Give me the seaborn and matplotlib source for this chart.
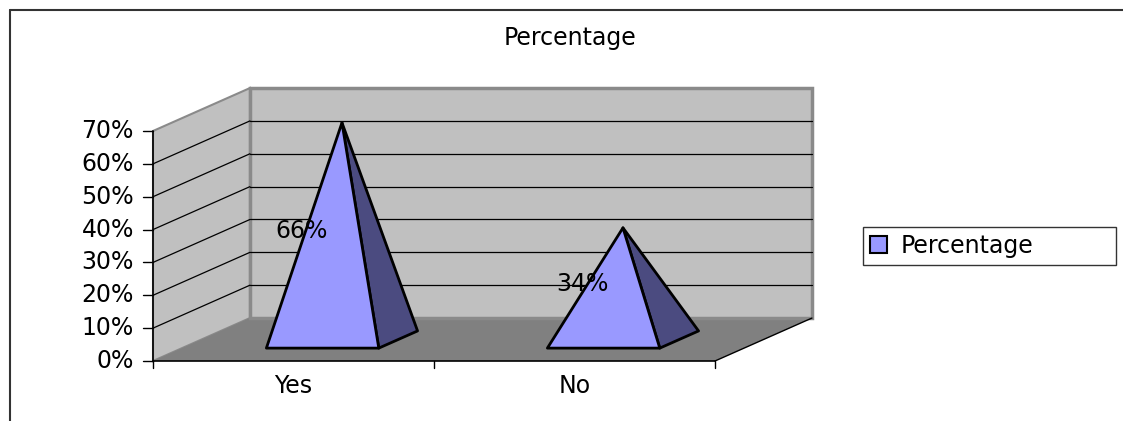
import matplotlib
matplotlib.use("Agg")
import matplotlib.pyplot as plt
import seaborn as sns
from matplotlib.lines import Line2D
from matplotlib.patches import Patch

# datos del grafico
categorias = ["Yes", "No"]
valores = [66, 34]
etiquetas = ["66%", "34%"]
yticks = [0, 10, 20, 30, 40, 50, 60, 70]
ytick_labels = ["0%", "10%", "20%", "30%", "40%", "50%", "60%", "70%"]
serie = "Percentage"

sns.set_theme(style="white")
plt.rcParams["font.family"] = ["DejaVu Sans"]
fs = 17

# colores estilo Excel 2003
c_frente = "#9999FF"
c_lado = "#4B4B80"
c_pared = "#C0C0C0"
c_piso = "#808080"

# proyeccion oblicua: desplazamiento de profundidad (en unidades de categoria y de %)
DX = 0.345
DY = 13.07
ymax = yticks[-1]
x0, x1 = -0.5, len(categorias) - 0.5


def proy(x, v, d):
    return (x + d * DX, v + d * DY)


fig = plt.figure(figsize=(11.23, 4.21), dpi=100)
ax = fig.add_axes([0, 0, 1, 1])
ax.set_xlim(-1.0445, 2.952)
ax.set_ylim(-18.26, 109.87)
ax.axis("off")

# pared izquierda
pared_izq = [proy(x0, 0, 0), proy(x0, ymax, 0), proy(x0, ymax, 1), proy(x0, 0, 1)]
ax.fill(*zip(*pared_izq), color=c_pared, ec="#8a8a8a", lw=1.5, zorder=1)
# piso
piso = [proy(x0, 0, 0), proy(x1, 0, 0), proy(x1, 0, 1), proy(x0, 0, 1)]
ax.fill(*zip(*piso), color=c_piso, lw=0, zorder=1)
# pared del fondo
fondo = [proy(x0, 0, 1), proy(x1, 0, 1), proy(x1, ymax, 1), proy(x0, ymax, 1)]
ax.fill(*zip(*fondo), color=c_pared, ec="#8a8a8a", lw=2.5, zorder=1)

# lineas de cuadricula
for v in yticks[1:-1]:
    a, b = proy(x0, v, 0), proy(x0, v, 1)
    ax.plot([a[0], b[0]], [a[1], b[1]], color="black", lw=0.9, zorder=2)
    a, b = proy(x0, v, 1), proy(x1, v, 1)
    ax.plot([a[0], b[0]], [a[1], b[1]], color="black", lw=0.9, zorder=2)

# borde del piso
a, b = proy(x1, 0, 0), proy(x1, 0, 1)
ax.plot([a[0], b[0]], [a[1], b[1]], color="black", lw=1, zorder=2)
ax.plot([x0, x1], [0, 0], color="black", lw=1.2, zorder=2)

# eje y
ax.plot([x0, x0], [0, ymax], color="black", lw=1.2, zorder=2)
for v, lab in zip(yticks, ytick_labels):
    ax.plot([x0 - 0.036, x0], [v, v], color="black", lw=1, zorder=2)
    ax.text(x0 - 0.068, v, lab, ha="right", va="center", fontsize=fs, color="black")

# eje x
for xt in [x0 + k for k in range(len(categorias) + 1)]:
    ax.plot([xt, xt], [0, -2.1], color="black", lw=1, zorder=2)
for i, cat in enumerate(categorias):
    ax.text(i, -7.6, cat, ha="center", va="center", fontsize=fs, color="black")

# piramides
for i, (v, lab) in enumerate(zip(valores, etiquetas)):
    fl = proy(i - 0.2, 0, 0.3)
    fr = proy(i + 0.2, 0, 0.3)
    br = proy(i + 0.2, 0, 0.7)
    apex = proy(i, v, 0.5)
    ax.fill(*zip(fr, br, apex), color=c_lado, ec="black", lw=2, joinstyle="round", zorder=3)
    ax.fill(*zip(fl, fr, apex), color=c_frente, ec="black", lw=2, joinstyle="round", zorder=4)
    ax.text(i + 0.03, v / 2 + 0.5 * DY, lab, ha="center", va="center", fontsize=fs,
            color="black", zorder=5)

# titulo
fig.text(570 / 1123, 1 - 38 / 421, serie, ha="center", va="center", fontsize=fs, color="black")

# leyenda
fig.legend(handles=[Patch(facecolor=c_frente, edgecolor="black", lw=1.5, label=serie)],
           loc="center", bbox_to_anchor=(863 / 1123, 1 - 264 / 421, 253 / 1123, 36 / 421),
           mode="expand", frameon=True, fancybox=False, edgecolor="black", fontsize=fs,
           labelcolor="black", handlelength=0.7, handleheight=0.7, handletextpad=0.6,
           borderpad=0.3, borderaxespad=0)

# borde del area del grafico
fig.add_artist(Line2D([10 / 1123, 1], [1 - 10 / 421, 1 - 10 / 421], transform=fig.transFigure,
                      color="#333333", lw=1.5))
fig.add_artist(Line2D([10 / 1123, 10 / 1123], [0, 1 - 10 / 421], transform=fig.transFigure,
                      color="#333333", lw=1.5))

fig.savefig("out.png", dpi=100, facecolor="white")
